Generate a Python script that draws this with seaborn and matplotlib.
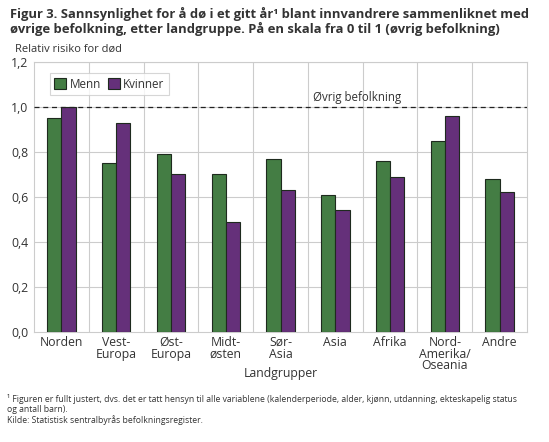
import matplotlib.pyplot as plt
import pandas as pd
import seaborn as sns

categories = ["Norden", "Vest-\nEuropa", "Øst-\nEuropa", "Midt-\nøsten", "Sør-\nAsia",
              "Asia", "Afrika", "Nord-\nAmerika/\nOseania", "Andre"]
menn = [0.95, 0.75, 0.79, 0.70, 0.77, 0.61, 0.76, 0.85, 0.68]
kvinner = [1.00, 0.93, 0.70, 0.49, 0.63, 0.54, 0.69, 0.96, 0.62]
yticks = [0.0, 0.2, 0.4, 0.6, 0.8, 1.0, 1.2]

df = pd.DataFrame({
    "land": categories * 2,
    "kjonn": ["Menn"] * len(categories) + ["Kvinner"] * len(categories),
    "risiko": menn + kvinner,
})

sns.set_style("white")
plt.rcParams["font.family"] = ["Open Sans", "DejaVu Sans"]

fig = plt.figure(figsize=(5.49, 4.42), dpi=100)
ax = fig.add_axes([0.062, 0.249, 0.898, 0.611])

sns.barplot(data=df, x="land", y="risiko", hue="kjonn", order=categories,
            palette={"Menn": "#3a873a", "Kvinner": "#6b2486"},
            width=0.52, edgecolor="#1e2a1e", linewidth=0.8, ax=ax, zorder=3)

ax.set_ylim(0, 1.2)
ax.set_xlim(-0.5, len(categories) - 0.5)
ax.set_yticks(yticks)
ax.set_yticklabels([f"{v:.1f}".replace(".", ",") for v in yticks], fontsize=8.8, color="#333333")
ax.tick_params(axis="x", labelsize=8.8, colors="#333333", length=0, pad=3)
ax.tick_params(axis="y", length=0, pad=4)
for lbl in ax.get_xticklabels():
    lbl.set_linespacing(0.85)

# grid: horizontal at ticks, vertical between categories
for v in yticks[1:]:
    ax.axhline(v, color="#cccccc", lw=0.8, zorder=0)
for i in range(1, len(categories)):
    ax.axvline(i - 0.5, color="#cccccc", lw=0.8, zorder=0)
for s in ax.spines.values():
    s.set_color("#cccccc")
    s.set_linewidth(0.8)

ax.axhline(1.0, color="#222222", lw=0.9, ls=(0, (4, 3)), zorder=4)
ax.text(5.4, 1.015, "Øvrig befolkning", ha="center", va="bottom", fontsize=8.3, color="#333333")

ax.set_xlabel("Landgrupper", fontsize=8.8, color="#333333")
ax.xaxis.set_label_coords(0.5, -0.13)
ax.xaxis.label.set_va("top")
ax.set_ylabel("")
ax.text(-0.038, 1.025, "Relativ risiko for død", transform=ax.transAxes,
        fontsize=8, color="#333333", ha="left", va="bottom")

leg = ax.legend(loc="upper left", bbox_to_anchor=(0.032, 0.959), ncol=2, fontsize=8.4,
                frameon=True, fancybox=False, edgecolor="#cccccc", handlelength=1.0,
                handleheight=1.0, handletextpad=0.3, columnspacing=0.6, borderpad=0.4,
                borderaxespad=0)
leg.get_frame().set_linewidth(0.8)
for t in leg.get_texts():
    t.set_color("#333333")

fig.text(0.018, 0.985, "Figur 3. Sannsynlighet for å dø i et gitt år¹ blant innvandrere sammenliknet med\n"
         "øvrige befolkning, etter landgruppe. På en skala fra 0 til 1 (øvrig befolkning)",
         fontsize=9.4, fontweight="bold", color="#333333", ha="left", va="top", linespacing=1.12)

fig.text(0.013, 0.108, "¹ Figuren er fullt justert, dvs. det er tatt hensyn til alle variablene (kalenderperiode, alder, kjønn, utdanning, ekteskapelig status\n"
         "og antall barn).\nKilde: Statistisk sentralbyrås befolkningsregister.",
         fontsize=6.2, color="#333333", ha="left", va="top", linespacing=1.1)

fig.savefig("out.png", dpi=100)
